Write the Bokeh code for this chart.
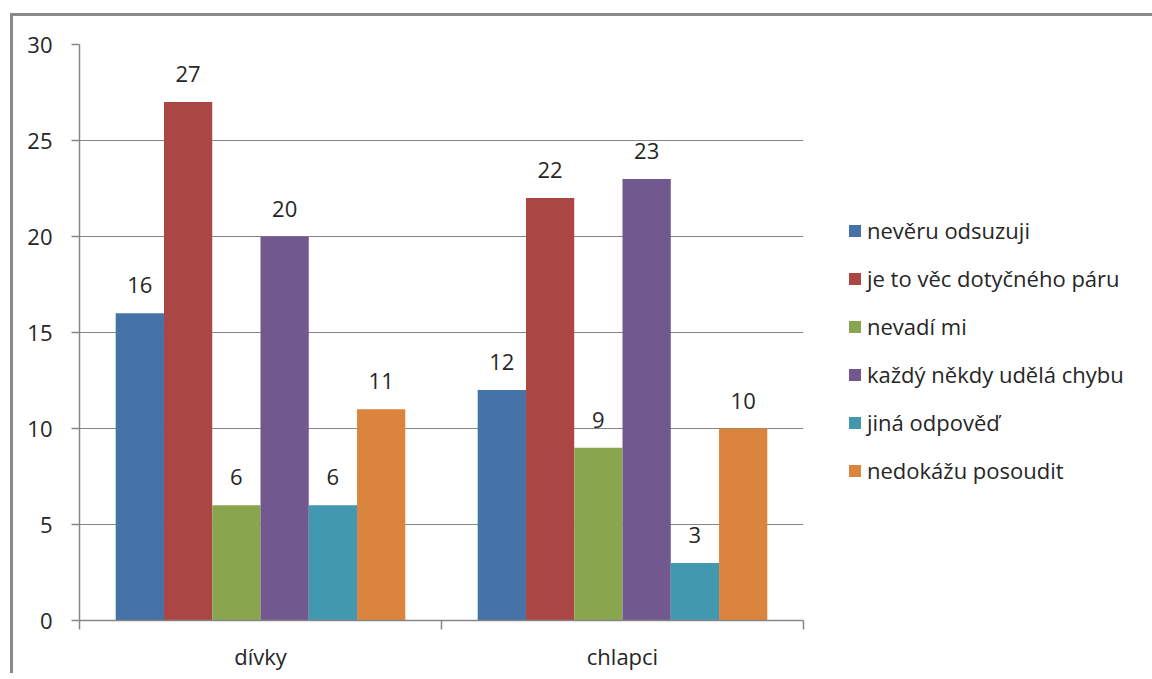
from bokeh.plotting import figure
from bokeh.models import (ColumnDataSource, Range1d, FixedTicker, LinearAxis,
                          Legend, LegendItem, LabelSet)
from bokeh.core.properties import value
from bokeh.embed import file_html
from bokeh.resources import INLINE

categories = ["dívky", "chlapci"]
series = ["nevěru odsuzuji", "je to věc dotyčného páru", "nevadí mi",
          "každý někdy udělá chybu", "jiná odpověď", "nedokážu posoudit"]
divky = [16, 27, 6, 20, 6, 11]
chlapci = [12, 22, 9, 23, 3, 10]
colors = ["#4572A7", "#AA4643", "#89A54E", "#71588F", "#4198AF", "#DB843D"]
y_ticks = [0, 5, 10, 15, 20, 25, 30]

values = [divky, chlapci]
FONT = "Open Sans"
FS = "22px"
TXT = "#262626"
GRAY = "#868686"

p = figure(frame_width=724, frame_height=576, output_backend="svg", toolbar_location=None,
           x_range=Range1d(0, len(categories)), y_range=Range1d(0, 30),
           min_border_left=66, min_border_top=28, min_border_right=0,
           min_border_bottom=43)
p.styles = {"border-left": "3px solid #8a8a8a", "border-top": "3px solid #8a8a8a",
            "margin-left": "10px", "margin-top": "13px"}
p.outline_line_color = None
p.xgrid.visible = False
p.ygrid.grid_line_color = GRAY
p.ygrid.grid_line_width = 1
p.ygrid.ticker = FixedTicker(ticks=y_ticks)

n = len(series)
bw = 0.8 / n
renderers = []
label_x, label_y, label_t = [], [], []
for i, name in enumerate(series):
    xs = [g + 0.1 + (i + 0.5) * bw for g in range(len(categories))]
    ys = [values[g][i] for g in range(len(categories))]
    src = ColumnDataSource(dict(x=xs, top=ys))
    r = p.vbar(x="x", top="top", bottom=0, width=bw, source=src,
               fill_color=colors[i], line_color=None)
    renderers.append(r)
    label_x += xs
    label_y += ys
    label_t += [str(v) for v in ys]

lsrc = ColumnDataSource(dict(x=label_x, y=label_y, t=label_t))
p.add_layout(LabelSet(x="x", y="y", text="t", source=lsrc, text_align="center",
                      text_baseline="alphabetic", y_offset=20,
                      text_font=value(FONT), text_font_size=value(FS),
                      text_color=TXT))

# y axis
ya = p.yaxis[0]
ya.ticker = FixedTicker(ticks=y_ticks)
ya.axis_line_color = GRAY
ya.axis_line_width = 1.5
ya.major_tick_line_color = GRAY
ya.major_tick_line_width = 1.5
ya.major_tick_out = 8
ya.major_tick_in = 0
ya.minor_tick_line_color = None
ya.major_label_standoff = 19
ya.major_label_text_font = FONT
ya.major_label_text_font_size = FS
ya.major_label_text_color = TXT

# x axis: separator ticks
xa = p.xaxis[0]
xa.ticker = FixedTicker(ticks=list(range(len(categories) + 1)))
xa.major_label_overrides = {k: "" for k in range(len(categories) + 1)}
xa.major_label_text_font_size = "1px"
xa.major_label_standoff = 0
xa.axis_line_color = GRAY
xa.axis_line_width = 1.5
xa.major_tick_line_color = GRAY
xa.major_tick_line_width = 1.5
xa.major_tick_out = 9
xa.major_tick_in = 0
xa.minor_tick_line_color = None

# x axis: category labels
centers = [g + 0.5 for g in range(len(categories))]
la = LinearAxis(ticker=FixedTicker(ticks=centers),
                major_label_overrides={c: cat for c, cat in zip(centers, categories)},
                axis_line_color=None, major_tick_line_color=None,
                minor_tick_line_color=None, major_label_standoff=5,
                major_label_text_font=FONT, major_label_text_font_size=FS,
                major_label_text_color=TXT)
p.add_layout(la, "below")

legend = Legend(items=[LegendItem(label=s, renderers=[r]) for s, r in zip(series, renderers)],
                location=(44, 135), glyph_width=15, glyph_height=15,
                label_height=30, spacing=18, label_standoff=5, padding=0,
                margin=0, border_line_color=None, background_fill_alpha=0,
                label_text_font=FONT, label_text_font_size=FS,
                label_text_color=TXT)
p.add_layout(legend, "right")

open("out.html", "w").write(file_html(p, INLINE))
